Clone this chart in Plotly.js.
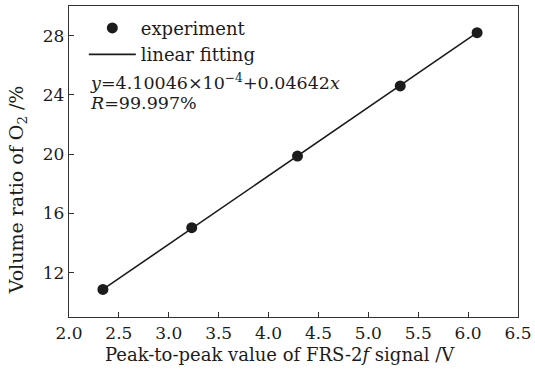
<!DOCTYPE html>
<html>
<head>
<meta charset="utf-8">
<script src="https://cdn.plot.ly/plotly-3.0.1.min.js"></script>
<style>html,body{margin:0;padding:0;background:#fff;}#chart{width:535px;height:370px;}</style>
</head>
<body>
<div id="chart"></div>
<script>
// Data
var signalV = [2.34, 3.23, 4.29, 5.32, 6.09];
var o2Ratio = [10.86, 15.03, 19.87, 24.6, 28.2];
var fitX = [2.34, 6.09];
var fitY = [10.86, 28.2];
var xTicks = [2.0, 2.5, 3.0, 3.5, 4.0, 4.5, 5.0, 5.5, 6.0, 6.5];
var xTickText = ['2.0','2.5','3.0','3.5','4.0','4.5','5.0','5.5','6.0','6.5'];
var yTicks = [12, 16, 20, 24, 28];

var FONT = 'DejaVu Serif, Liberation Serif, serif';
var INK = '#1c1c1c';

var traces = [
  {x: signalV, y: o2Ratio, mode: 'markers', name: 'experiment', type: 'scatter',
   marker: {color: INK, size: 11}},
  {x: fitX, y: fitY, mode: 'lines', name: 'linear fitting', type: 'scatter',
   line: {color: INK, width: 1.6}}
];

var layout = {
  width: 535, height: 370,
  margin: {l: 69, r: 17, t: 6, b: 53},
  paper_bgcolor: '#fff', plot_bgcolor: '#fff',
  font: {family: FONT, size: 17, color: INK},
  showlegend: true,
  legend: {x: 0.033, y: 0.988, xanchor: 'left', yanchor: 'top', bgcolor: 'rgba(0,0,0,0)',
           font: {family: FONT, size: 18, color: INK}, itemwidth: 47, tracegroupgap: 0,
           traceorder: 'normal'},
  xaxis: {range: [2.0, 6.5], tickvals: xTicks, ticktext: xTickText, ticks: 'inside', ticklen: 5,
          tickwidth: 1.2, tickcolor: '#333', showline: true, linecolor: '#333', linewidth: 1.3,
          mirror: true, showgrid: false, zeroline: false, tickfont: {family: FONT, size: 17, color: INK}},
  yaxis: {range: [9, 30], tickvals: yTicks, ticks: 'inside', ticklen: 5,
          tickwidth: 1.2, tickcolor: '#333', showline: true, linecolor: '#333', linewidth: 1.3,
          mirror: true, showgrid: false, zeroline: false, tickfont: {family: FONT, size: 17, color: INK}},
  annotations: [
    {xref: 'paper', yref: 'paper', x: 0.042, y: 0.756, xanchor: 'left', yanchor: 'middle', showarrow: false,
     text: '<i>y</i>=4.10046×10<sup>−4</sup>+0.04642<i>x</i>', font: {family: FONT, size: 17.5, color: INK}},
    {xref: 'paper', yref: 'paper', x: 0.042, y: 0.688, xanchor: 'left', yanchor: 'middle', showarrow: false,
     text: '<i>R</i>=99.997%', font: {family: FONT, size: 17.5, color: INK}},
    {xref: 'paper', yref: 'paper', x: 0.47, y: -0.122, xanchor: 'center', yanchor: 'middle', showarrow: false,
     text: 'Peak-to-peak value of FRS-2<i>f</i> signal /V', font: {family: FONT, size: 18, color: INK}},
    {xref: 'paper', yref: 'paper', x: -0.114, y: 0.41, xanchor: 'center', yanchor: 'middle', showarrow: false,
     textangle: -90, text: 'Volume ratio of O<sub>2</sub> /%', font: {family: FONT, size: 19, color: INK}}
  ]
};

Plotly.newPlot('chart', traces, layout, {displayModeBar: false, staticPlot: true});
</script>
</body>
</html>
